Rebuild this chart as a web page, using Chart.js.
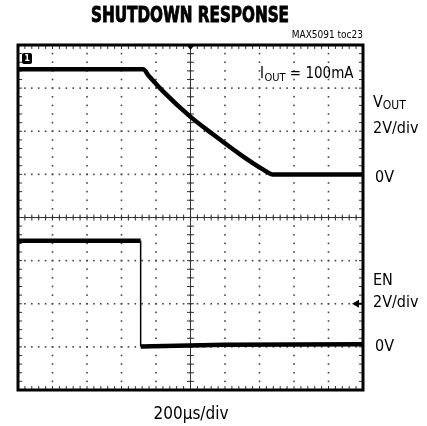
<!DOCTYPE html>
<html>
<head>
<meta charset="utf-8">
<script src="https://cdn.jsdelivr.net/npm/chart.js@4.4.1/dist/chart.umd.min.js"></script>
<style>
  html, body { margin: 0; padding: 0; background: #fff; }
  #wrap { position: relative; width: 427px; height: 426px; }
</style>
</head>
<body>
<div id="wrap"><canvas id="scope" width="427" height="426"></canvas></div>
<script>
// time in microseconds, voltages in volts
const voutTime = [0, 725, 760, 841, 997, 1130, 1287, 1420, 1478, 2000];
const voutVolts = [4.87, 4.87, 4.55, 3.85, 2.69, 1.86, 0.93, 0.23, 0.0, 0.0];
const enTime = [0, 711, 711, 1200, 2000];
const enVolts = [4.92, 4.92, 0.02, 0.1, 0.12];

const timeRange = [0, 2000];        // 10 div x 200us
const voutRange = [-10, 6];         // 8 div x 2V, 0V three divisions from top
const enRange = [-2, 14];           // 8 div x 2V, 0V one division from bottom

const NARROW = '"Liberation Sans Narrow", "DejaVu Sans Condensed", sans-serif';

function toPoints(xs, ys) {
    return xs.map((x, i) => ({ x: x, y: ys[i] }));
}

// ===== OSCILLOSCOPE GRATICULE + LABELS =====
const scopePlugin = {
    id: "scopePlugin",
    beforeDatasetsDraw(chart) {
        const { ctx, chartArea: a } = chart;
        const xs = chart.scales.x;
        const ys = chart.scales.yv;
        const cx = xs.getPixelForValue(1000);
        const cy = ys.getPixelForValue(-2);
        ctx.save();
        ctx.fillStyle = "#444";
        // dotted major lines, one dot per minor division
        for (let i = 1; i < 10; i++) {
            const x = xs.getPixelForValue(i * 200);
            for (let j = 1; j < 40; j++) {
                const y = a.top + j * (a.bottom - a.top) / 40;
                ctx.fillRect(x - 0.8, y - 0.8, 1.6, 1.6);
            }
        }
        for (let i = 1; i < 8; i++) {
            const y = ys.getPixelForValue(6 - i * 2);
            for (let j = 1; j < 50; j++) {
                const x = a.left + j * (a.right - a.left) / 50;
                ctx.fillRect(x - 0.8, y - 0.8, 1.6, 1.6);
            }
        }
        // center crosshair with minor ticks
        ctx.strokeStyle = "#333";
        ctx.lineWidth = 1;
        ctx.beginPath();
        ctx.moveTo(a.left, cy); ctx.lineTo(a.right, cy);
        ctx.moveTo(cx, a.top); ctx.lineTo(cx, a.bottom);
        for (let j = 1; j < 50; j++) {
            const x = a.left + j * (a.right - a.left) / 50;
            ctx.moveTo(x, cy - 3); ctx.lineTo(x, cy + 3);
            ctx.moveTo(x, a.top); ctx.lineTo(x, a.top + 4);
            ctx.moveTo(x, a.bottom); ctx.lineTo(x, a.bottom - 4);
        }
        for (let j = 1; j < 40; j++) {
            const y = a.top + j * (a.bottom - a.top) / 40;
            ctx.moveTo(cx - 3.5, y); ctx.lineTo(cx + 3.5, y);
            ctx.moveTo(a.left, y); ctx.lineTo(a.left + 4, y);
            ctx.moveTo(a.right, y); ctx.lineTo(a.right - 4, y);
        }
        ctx.stroke();
        ctx.restore();
    },
    afterDatasetsDraw(chart) {
        const { ctx, chartArea: a } = chart;
        const xs = chart.scales.x;
        const ye = chart.scales.ye;
        const cx = xs.getPixelForValue(1000);
        ctx.save();
        // frame
        ctx.strokeStyle = "#000";
        ctx.lineWidth = 3;
        ctx.strokeRect(a.left, a.top, a.right - a.left, a.bottom - a.top);

        // trigger position marker (top center)
        ctx.fillStyle = "#000";
        ctx.beginPath();
        ctx.moveTo(cx - 4, a.top); ctx.lineTo(cx + 4, a.top); ctx.lineTo(cx, a.top + 5);
        ctx.closePath(); ctx.fill();

        // trigger level marker (right side, EN channel)
        const ty = ye.getPixelForValue(2);
        ctx.beginPath();
        ctx.moveTo(a.right - 11, ty); ctx.lineTo(a.right - 4, ty - 4); ctx.lineTo(a.right - 4, ty + 4);
        ctx.closePath(); ctx.fill();
        ctx.fillRect(a.right - 5, ty - 1, 4, 2);

        // channel 1 marker
        const mx = a.left + 4, my = a.top + 8;
        ctx.beginPath();
        ctx.roundRect(mx, my, 10, 11, 2);
        ctx.fill();
        ctx.fillStyle = "#fff";
        ctx.font = "bold 9px " + NARROW;
        ctx.textAlign = "center";
        ctx.textBaseline = "middle";
        ctx.fillText("1", mx + 5, my + 6);

        // texts
        ctx.fillStyle = "#000";
        ctx.strokeStyle = "#000";
        ctx.textBaseline = "alphabetic";
        ctx.textAlign = "center";
        ctx.font = "bold 22px " + NARROW;
        ctx.lineWidth = 0.9;
        ctx.fillText("SHUTDOWN RESPONSE", 190, 22, 198);
        ctx.strokeText("SHUTDOWN RESPONSE", 190, 22, 198);

        ctx.textAlign = "right";
        ctx.font = "10px " + NARROW;
        ctx.fillText("MAX5091 toc23", a.right, 38);

        ctx.textAlign = "left";
        // IOUT = 100mA
        let x = 260;
        ctx.font = "15px " + NARROW;
        ctx.fillText("I", x, 78);
        x += ctx.measureText("I").width + 0.5;
        ctx.font = "11px " + NARROW;
        ctx.fillText("OUT", x, 81);
        x += ctx.measureText("OUT").width;
        ctx.font = "15px " + NARROW;
        ctx.fillText(" = 100mA", x, 78);

        // channel labels
        const lx = 373;
        ctx.font = "16px " + NARROW;
        ctx.fillText("V", lx, 107);
        const vw = ctx.measureText("V").width;
        ctx.font = "12px " + NARROW;
        ctx.fillText("OUT", lx + vw, 109);
        ctx.font = "16px " + NARROW;
        ctx.fillText("2V/div", lx, 133);
        ctx.fillText("0V", lx + 2, 182);
        ctx.fillText("EN", lx, 285);
        ctx.fillText("2V/div", lx, 307);
        ctx.fillText("0V", lx + 2, 351);

        ctx.textAlign = "center";
        ctx.font = "17px " + NARROW;
        ctx.fillText("200\u00b5s/div", 191, 419);
        ctx.restore();
    }
};

new Chart(document.getElementById("scope"), {
    type: "line",
    data: {
        datasets: [
            {
                label: "VOUT",
                data: toPoints(voutTime, voutVolts),
                yAxisID: "yv",
                borderColor: "#000",
                borderWidth: 4.5,
                pointRadius: 0,
                cubicInterpolationMode: "monotone"
            },
            {
                label: "EN",
                data: toPoints(enTime, enVolts),
                yAxisID: "ye",
                borderColor: "#000",
                borderWidth: 4.5,
                pointRadius: 0,
                tension: 0,
                segment: {
                    borderWidth: c => c.p0.parsed.x === c.p1.parsed.x ? 1.5 : 4.5
                }
            }
        ]
    },
    options: {
        responsive: false,
        animation: false,
        parsing: false,
        layout: { padding: { left: 18, top: 45, right: 64, bottom: 36 } },
        plugins: { legend: { display: false }, tooltip: { enabled: false } },
        scales: {
            x: { type: "linear", min: timeRange[0], max: timeRange[1], display: false },
            yv: { type: "linear", min: voutRange[0], max: voutRange[1], display: false },
            ye: { type: "linear", min: enRange[0], max: enRange[1], display: false }
        }
    },
    plugins: [scopePlugin]
});
</script>
</body>
</html>
